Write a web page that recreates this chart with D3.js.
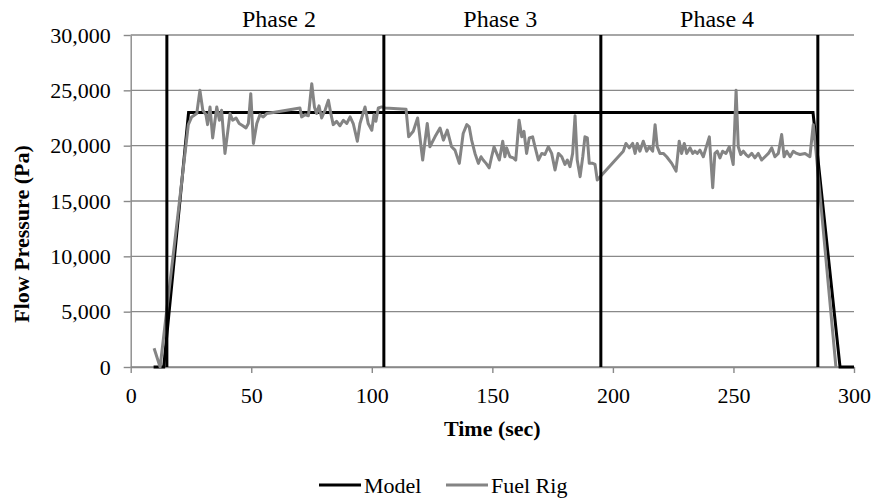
<!DOCTYPE html>
<html>
<head>
<meta charset="utf-8">
<script src="https://cdn.jsdelivr.net/npm/d3@7"></script>
<style>
    body { margin: 0; background: #ffffff; }
    text { font-family: 'Liberation Serif', 'Times New Roman', serif; fill: #000000; }
</style>
</head>
<body>
<svg id="canvas" width="874" height="501" font-family="'Liberation Serif', 'Times New Roman', serif"></svg>
<script>
// values
let modelTime = [9.5, 13.7, 24, 283, 294.2, 300]
let modelPressure = [0, 0, 23000, 23000, 0, 0]

let rigTime = [9.7, 12.2, 20.3, 23.9, 25.3, 27.4, 28.7, 29.9, 31.2, 31.9, 32.9, 34.0, 35.7, 36.8, 37.7, 39.1,
    41.2, 42.3, 43.7, 45.0, 46.5, 47.8, 48.8, 49.8, 50.9, 52.3, 53.6, 55.0, 56.4, 59.1, 70.2, 70.9,
    72.3, 73.7, 75.1, 76.2, 77.1, 78.1, 79.2, 80.6, 82.0, 83.1, 84.0, 85.4, 86.8, 88.2, 89.6, 91.0,
    92.3, 94.0, 95.1, 97.2, 98.5, 100.0, 100.9, 101.7, 102.7, 104.1, 105.5, 114.2, 115.3, 117.2,
    119.0, 121.1, 123.0, 124.1, 126.2, 128.3, 129.7, 131.3, 133.1, 134.5, 136.3, 137.9, 139.4, 140.4,
    141.4, 142.8, 144.2, 145.3, 146.2, 147.4, 148.7, 149.7, 150.7, 151.8, 152.9, 154.3, 155.2, 155.9,
    157.3, 158.7, 159.7, 161.1, 162.2, 163.1, 164.2, 165.3, 166.7, 167.7, 169.1, 170.5, 171.8, 173.2,
    174.6, 176.0, 177.4, 178.8, 180.1, 181.1, 182.2, 183.3, 184.3, 185.2, 186.4, 187.5, 188.4, 189.4,
    190.2, 191.6, 192.6, 193.5, 204.3, 205.4, 206.8, 208.2, 209.2, 210.1, 211.2, 212.6, 214.0, 215.1,
    216.5, 217.5, 218.4, 219.5, 220.9, 222.3, 224.4, 226.2, 227.5, 228.5, 229.6, 230.6, 232.0, 233.1,
    234.0, 235.0, 236.1, 237.5, 238.6, 240.0, 241.4, 242.3, 243.3, 244.4, 245.5, 246.9, 248.3, 249.9,
    251.1, 252.0, 253.0, 254.1, 255.2, 256.2, 257.6, 258.9, 260.3, 261.7, 263.1, 264.5, 265.9, 267.2,
    268.6, 270.0, 271.0, 272.1, 273.5, 274.8, 276.2, 277.6, 279.7, 281.7, 283.1, 284.2, 292.5]

let rigPressure = [1700, 0, 15100, 21900, 22600, 22900, 25000, 23200, 22800, 21900, 23500, 20700, 23500, 22300, 23200, 19300,
    22900, 22300, 22500, 22000, 21800, 21600, 22000, 24700, 20200, 22000, 22800, 22600, 22900, 23000, 23400, 22600,
    22800, 22700, 25600, 23500, 22900, 23600, 22500, 23200, 24100, 22800, 21900, 22200, 21800, 22300, 22000, 22600,
    22000, 20400, 22000, 23500, 22000, 21400, 22800, 22200, 23400, 23500, 23400, 23300, 20800, 21300,
    22500, 18700, 22000, 19900, 20800, 21600, 20500, 21400, 19900, 19600, 18400, 21100, 21900, 21700,
    20500, 19300, 18400, 19000, 18700, 18400, 18000, 19000, 19900, 19300, 18700, 20400, 19000, 19800,
    19000, 18900, 18700, 22300, 20800, 21300, 19300, 20700, 20800, 19900, 18700, 19300, 19200, 19900,
    19300, 17800, 19300, 19000, 18300, 18700, 18100, 19300, 22700, 18700, 17200, 19000, 20800, 20700,
    18400, 18400, 18300, 16900, 19500, 20200, 19800, 20200, 19300, 20200, 19500, 20400, 19500, 19900,
    19500, 21900, 19900, 19300, 19300, 19000, 18400, 17700, 20400, 19300, 20200, 19300, 19800, 19300,
    19500, 19300, 19600, 19000, 19800, 20800, 16200, 19300, 19500, 18900, 19500, 19300, 19900, 18300,
    25000, 19900, 19200, 19500, 19200, 19000, 19300, 18900, 19300, 18700, 19000, 19300, 19800, 19000,
    19300, 21000, 19000, 19500, 19000, 19500, 19300, 19200, 19300, 19000, 21900, 19600, 0]

let phaseTime = [15, 105, 195, 285]
let phaseNames = ['Phase 2', 'Phase 3', 'Phase 4']
let phaseLabelTime = [61.5, 153.3, 243.2]

let xTicks = [0, 50, 100, 150, 200, 250, 300]
let yTicks = [0, 5000, 10000, 15000, 20000, 25000, 30000]

let canvas = d3.select('#canvas')
let serif = "'Liberation Serif', 'Times New Roman', serif"

let plotLeft = 130.7
let plotRight = 854
let plotTop = 35
let plotBottom = 367
let gridColor = '#898989'

let xScale = d3.scaleLinear()
    .domain([0, 300])
    .range([plotLeft, plotRight])

let yScale = d3.scaleLinear()
    .domain([0, 30000])
    .range([plotBottom, plotTop])

// horizontal gridlines
canvas.selectAll('.grid')
    .data(yTicks)
    .enter()
    .append('line')
    .attr('class', 'grid')
    .attr('x1', plotLeft)
    .attr('x2', plotRight)
    .attr('y1', (d) => yScale(d))
    .attr('y2', (d) => yScale(d))
    .attr('stroke', gridColor)
    .attr('stroke-width', 1.4)

// axes
let yAxis = d3.axisLeft(yScale)
    .tickValues(yTicks)
    .tickFormat(d3.format(','))
    .tickSize(7)
    .tickSizeOuter(0)
    .tickPadding(13)

let xAxis = d3.axisBottom(xScale)
    .tickValues(xTicks)
    .tickSize(6)
    .tickSizeOuter(0)
    .tickPadding(14)

let styleAxis = (g) => {
    g.attr('font-family', serif)
    g.select('.domain').attr('stroke', gridColor).attr('stroke-width', 1.4)
    g.selectAll('.tick line').attr('stroke', gridColor).attr('stroke-width', 1.4)
    g.selectAll('.tick text')
        .style('font-family', serif)
        .style('font-size', '22px')
        .attr('fill', '#000')
}

canvas.append('g')
    .attr('transform', 'translate(' + plotLeft + ',0)')
    .call(yAxis)
    .call(styleAxis)

canvas.append('g')
    .attr('transform', 'translate(0,' + plotBottom + ')')
    .call(xAxis)
    .call(styleAxis)

// series
let lineGen = d3.line()
    .x((d) => xScale(d[0]))
    .y((d) => yScale(d[1]))

let modelPoints = modelTime.map((t, i) => [t, modelPressure[i]])
let rigPoints = rigTime.map((t, i) => [t, rigPressure[i]])

canvas.append('path')
    .datum(modelPoints)
    .attr('d', lineGen)
    .attr('fill', 'none')
    .attr('stroke', '#000000')
    .attr('stroke-width', 3)
    .attr('stroke-linejoin', 'miter')

canvas.append('path')
    .datum(rigPoints)
    .attr('d', lineGen)
    .attr('fill', 'none')
    .attr('stroke', '#848484')
    .attr('stroke-width', 3)
    .attr('stroke-linejoin', 'round')

// phase boundaries
canvas.selectAll('.phase')
    .data(phaseTime)
    .enter()
    .append('line')
    .attr('class', 'phase')
    .attr('x1', (d) => xScale(d))
    .attr('x2', (d) => xScale(d))
    .attr('y1', yScale(30000))
    .attr('y2', yScale(0))
    .attr('stroke', '#000000')
    .attr('stroke-width', 3)

canvas.selectAll('.phase-label')
    .data(phaseNames)
    .enter()
    .append('text')
    .attr('class', 'phase-label')
    .attr('x', (d, i) => xScale(phaseLabelTime[i]))
    .attr('y', 26.5)
    .attr('text-anchor', 'middle')
    .style('font-family', serif)
    .style('font-size', '24px')
    .text((d) => d)

// axis titles
canvas.append('text')
    .attr('x', (plotLeft + plotRight) / 2)
    .attr('y', 436)
    .attr('text-anchor', 'middle')
    .style('font-family', serif)
    .style('font-size', '22px')
    .style('font-weight', 'bold')
    .text('Time (sec)')

canvas.append('text')
    .attr('transform', 'translate(29,234) rotate(-90)')
    .attr('text-anchor', 'middle')
    .style('font-family', serif)
    .style('font-size', '22px')
    .style('font-weight', 'bold')
    .text('Flow Pressure (Pa)')

// legend
let legendItems = [
    {name: 'Model', color: '#000000', x: 319},
    {name: 'Fuel Rig', color: '#848484', x: 446}
]

let legend = canvas.selectAll('.legend')
    .data(legendItems)
    .enter()
    .append('g')
    .attr('class', 'legend')
    .attr('transform', (d) => 'translate(' + d.x + ',485)')

legend.append('line')
    .attr('x1', 0)
    .attr('x2', 42)
    .attr('y1', 0)
    .attr('y2', 0)
    .attr('stroke', (d) => d.color)
    .attr('stroke-width', 3)

legend.append('text')
    .attr('x', 45)
    .attr('y', 8)
    .style('font-family', serif)
    .style('font-size', '22px')
    .text((d) => d.name)
</script>
</body>
</html>
